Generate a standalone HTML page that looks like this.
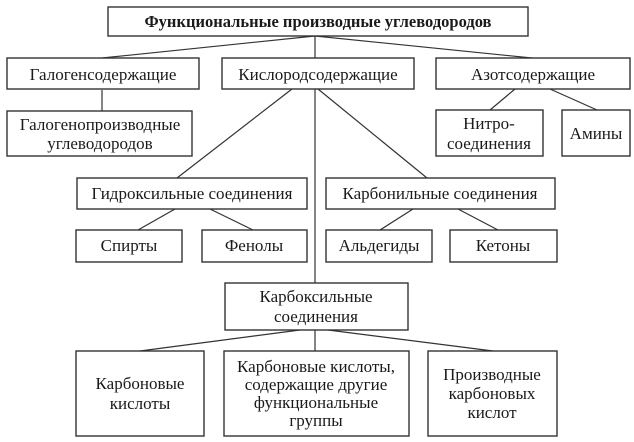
<!DOCTYPE html>
<html><head><meta charset="utf-8"><style>
html,body{margin:0;padding:0;background:#fff}
svg{display:block}
svg text{font-family:"Liberation Serif","DejaVu Serif",serif;font-size:17px;fill:#1a1a1a;text-anchor:middle}
rect{fill:#fff;stroke:#333;stroke-width:1.4}
line{stroke:#333;stroke-width:1.2}
</style></head><body>
<svg width="634" height="442" viewBox="0 0 634 442" font-family="Liberation Serif, DejaVu Serif, serif">
<line x1="315" y1="36" x2="102" y2="58"/>
<line x1="315" y1="36" x2="315" y2="58"/>
<line x1="315" y1="36" x2="532" y2="58"/>
<line x1="102" y1="90" x2="102" y2="111"/>
<line x1="515" y1="89" x2="490" y2="110"/>
<line x1="550" y1="89" x2="597" y2="110"/>
<line x1="292" y1="89" x2="177" y2="178"/>
<line x1="318" y1="89" x2="427" y2="178"/>
<line x1="315" y1="89" x2="315" y2="283"/>
<line x1="175" y1="209" x2="138" y2="230"/>
<line x1="210" y1="209" x2="253" y2="230"/>
<line x1="413" y1="209" x2="380" y2="230"/>
<line x1="458" y1="209" x2="498" y2="230"/>
<line x1="300" y1="330" x2="140" y2="351"/>
<line x1="315" y1="330" x2="315" y2="351"/>
<line x1="328" y1="330" x2="493" y2="351"/>
<rect x="108" y="7" width="420" height="29"/>
<text x="318" y="27" style="font-weight:bold;font-size:16.5px">Функциональные производные углеводородов</text>
<rect x="7" y="58" width="192" height="31"/>
<text x="103" y="80">Галогенсодержащие</text>
<rect x="222" y="58" width="192" height="31"/>
<text x="318" y="80">Кислородсодержащие</text>
<rect x="436" y="58" width="194" height="31"/>
<text x="533" y="80">Азотсодержащие</text>
<rect x="7" y="111" width="185" height="45"/>
<text x="100" y="130">Галогенопроизводные</text>
<text x="100" y="149">углеводородов</text>
<rect x="436" y="110" width="107" height="46"/>
<text x="489" y="129">Нитро-</text>
<text x="489" y="149">соединения</text>
<rect x="562" y="110" width="68" height="46"/>
<text x="596" y="139">Амины</text>
<rect x="77" y="178" width="230" height="31"/>
<text x="192" y="199">Гидроксильные соединения</text>
<rect x="326" y="178" width="229" height="31"/>
<text x="440" y="199">Карбонильные соединения</text>
<rect x="76" y="230" width="106" height="32"/>
<text x="129" y="251">Спирты</text>
<rect x="202" y="230" width="105" height="32"/>
<text x="254" y="251">Фенолы</text>
<rect x="326" y="230" width="106" height="32"/>
<text x="379" y="251">Альдегиды</text>
<rect x="450" y="230" width="107" height="32"/>
<text x="503" y="251">Кетоны</text>
<rect x="225" y="283" width="183" height="47"/>
<text x="316" y="302">Карбоксильные</text>
<text x="316" y="322">соединения</text>
<rect x="76" y="351" width="128" height="85"/>
<text x="140" y="389">Карбоновые</text>
<text x="140" y="409">кислоты</text>
<rect x="224" y="351" width="185" height="85"/>
<text x="316" y="372">Карбоновые кислоты,</text>
<text x="316" y="390">содержащие другие</text>
<text x="316" y="408">функциональные</text>
<text x="316" y="426">группы</text>
<rect x="428" y="351" width="129" height="85"/>
<text x="492" y="380">Производные</text>
<text x="492" y="399">карбоновых</text>
<text x="492" y="418">кислот</text>
</svg>
</body></html>
